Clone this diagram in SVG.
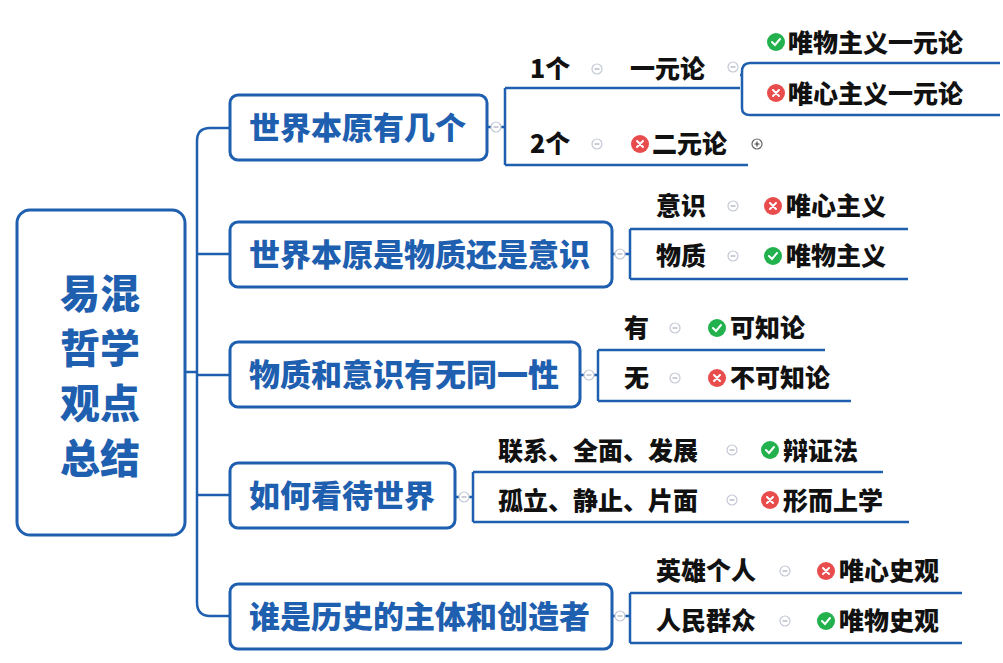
<svg xmlns="http://www.w3.org/2000/svg" width="1003" height="663" viewBox="0 0 1003 663">
<style>
.box{fill:#fff;stroke:#1f5fb0;stroke-width:3}
.ln{fill:none;stroke:#1f5fb0;stroke-width:2.5}
.bt{font-family:"Noto Sans CJK SC","Liberation Sans",sans-serif;font-weight:900;fill:#1f5fb0;font-size:31px}
.rt{font-family:"Noto Sans CJK SC","Liberation Sans",sans-serif;font-weight:900;fill:#1f5fb0;font-size:40px;text-anchor:middle}
.lt{font-family:"Noto Sans CJK SC","Liberation Sans",sans-serif;font-weight:900;fill:#111;font-size:25px}
.col{fill:#fff;stroke:#c5c9d6;stroke-width:1.2}
.cm{stroke:#aab;stroke-width:1.2}
.ck{fill:#22b14c}.cx{fill:#e84c4c}
.mk{stroke:#fff;stroke-width:2;fill:none;stroke-linecap:round}
</style>
<defs>
<g id="ok"><circle r="9" class="ck"/><path class="mk" d="M-4,0 L-1,3 L4,-3"/></g>
<g id="no"><circle r="9" class="cx"/><path class="mk" d="M-3,-3 L3,3 M3,-3 L-3,3"/></g>
<g id="mn"><circle r="5" class="col"/><line x1="-2.5" y1="0" x2="2.5" y2="0" class="cm"/></g>
<g id="pl"><circle r="5" fill="#fff" stroke="#666" stroke-width="1.2"/><path d="M-2.5,0 H2.5 M0,-2.5 V2.5" stroke="#444" stroke-width="1.2"/></g>
</defs>
<g id="connectors">
<path class="ln" d="M185,372 H197"/>
<path class="ln" d="M230,128 H210 Q197,128 197,141 V602 Q197,616 210,616 H230"/>
<path class="ln" d="M197,254 H230"/>
<path class="ln" d="M197,375 H230"/>
<path class="ln" d="M197,495 H230"/>
<path class="ln" d="M487,127 H505 M505,88 V165 M505,88 H740 M505,165 H748"/>
<path class="ln" d="M740,75 H742 M742,72 Q742,63 750,63 H1000 M742,72 V108 Q742,115 750,115 H1000"/>
<path class="ln" d="M612,254 H630 M630,229 V279 M630,229 H908 M630,279 H908"/>
<path class="ln" d="M580,375 H598 M598,350 V401 M598,350 H825 M598,401 H851"/>
<path class="ln" d="M455,497 H473 M473,472 V522 M473,472 H883 M473,522 H909"/>
<path class="ln" d="M612,616 H630 M630,593 V643 M630,593 H962 M630,643 H962"/>
</g>
<g id="root"><rect class="box" x="17" y="210" width="168" height="325" rx="13"/>
<text class="rt" x="100" y="308">易混</text><text class="rt" x="100" y="363">哲学</text><text class="rt" x="100" y="418">观点</text><text class="rt" x="100" y="473">总结</text></g>
<g id="b1"><rect class="box" x="230" y="95" width="257" height="65" rx="8"/><text class="bt" x="249" y="139">世界本原有几个</text></g>
<g id="b2"><rect class="box" x="230" y="222" width="382" height="65" rx="8"/><text class="bt" x="249" y="266">世界本原是物质还是意识</text></g>
<g id="b3"><rect class="box" x="230" y="342" width="350" height="65" rx="8"/><text class="bt" x="249" y="386">物质和意识有无同一性</text></g>
<g id="b4"><rect class="box" x="230" y="463" width="225" height="65" rx="8"/><text class="bt" x="249" y="507">如何看待世界</text></g>
<g id="b5"><rect class="box" x="230" y="584" width="382" height="65" rx="8"/><text class="bt" x="249" y="628">谁是历史的主体和创造者</text></g>
<g id="collapsers">
<use href="#mn" x="496" y="127"/><use href="#mn" x="620" y="254"/><use href="#mn" x="589" y="375"/><use href="#mn" x="464" y="497"/><use href="#mn" x="620" y="616"/>
</g>
<g id="n1"><text class="lt" x="530" y="78">1个</text><use href="#mn" x="597" y="69"/><text class="lt" x="630" y="78">一元论</text><use href="#mn" x="733" y="67"/></g>
<g id="n1a"><use href="#ok" x="776" y="42"/><text class="lt" x="788" y="52">唯物主义一元论</text></g>
<g id="n1b"><use href="#no" x="776" y="93"/><text class="lt" x="788" y="103">唯心主义一元论</text></g>
<g id="n2"><text class="lt" x="530" y="153">2个</text><use href="#mn" x="597" y="144"/><use href="#no" x="640" y="144"/><text class="lt" x="652" y="153">二元论</text><use href="#pl" x="757" y="144"/></g>
<g id="n3"><text class="lt" x="656" y="215">意识</text><use href="#mn" x="733" y="206"/><use href="#no" x="773" y="206"/><text class="lt" x="786" y="215">唯心主义</text></g>
<g id="n4"><text class="lt" x="656" y="265">物质</text><use href="#mn" x="733" y="256"/><use href="#ok" x="773" y="256"/><text class="lt" x="786" y="265">唯物主义</text></g>
<g id="n5"><text class="lt" x="624" y="337">有</text><use href="#mn" x="675" y="328"/><use href="#ok" x="717" y="328"/><text class="lt" x="730" y="337">可知论</text></g>
<g id="n6"><text class="lt" x="624" y="387">无</text><use href="#mn" x="675" y="378"/><use href="#no" x="717" y="378"/><text class="lt" x="730" y="387">不可知论</text></g>
<g id="n7"><text class="lt" x="498" y="460">联系、全面、发展</text><use href="#mn" x="732" y="450"/><use href="#ok" x="770" y="450"/><text class="lt" x="783" y="460">辩证法</text></g>
<g id="n8"><text class="lt" x="498" y="510">孤立、静止、片面</text><use href="#mn" x="732" y="500"/><use href="#no" x="770" y="500"/><text class="lt" x="783" y="510">形而上学</text></g>
<g id="n9"><text class="lt" x="656" y="580">英雄个人</text><use href="#mn" x="785" y="571"/><use href="#no" x="826" y="571"/><text class="lt" x="839" y="580">唯心史观</text></g>
<g id="n10"><text class="lt" x="656" y="630">人民群众</text><use href="#mn" x="785" y="621"/><use href="#ok" x="826" y="621"/><text class="lt" x="839" y="630">唯物史观</text></g>
</svg>
